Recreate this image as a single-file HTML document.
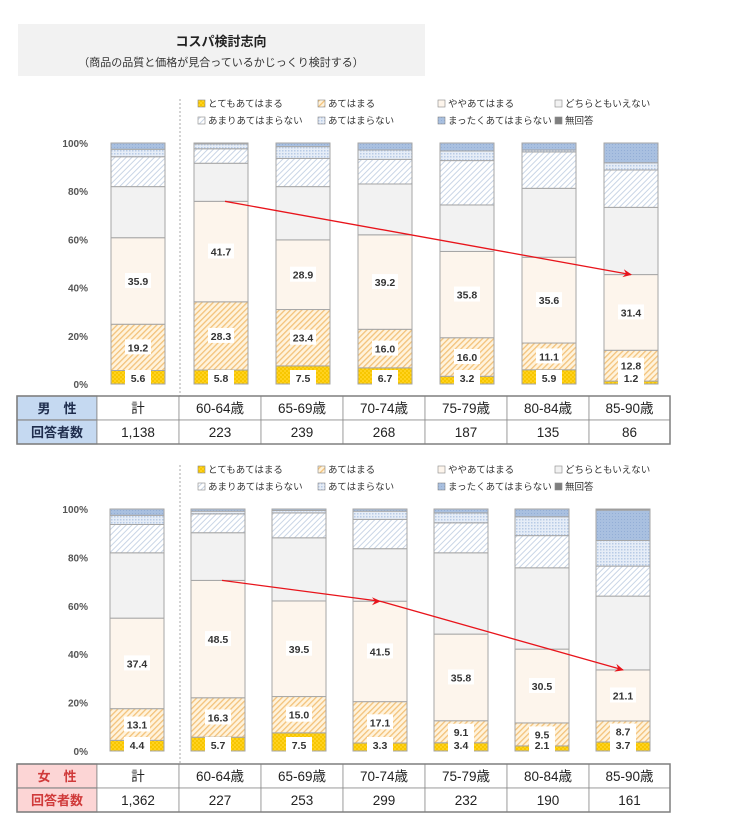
<!DOCTYPE html>
<html><head><meta charset="utf-8">
<style>
body{margin:0;background:#fff;font-family:"Liberation Sans","Noto Sans CJK JP",sans-serif;}
#wrap{position:relative;width:730px;height:840px;overflow:hidden;}
</style></head>
<body>
<div id="wrap">
<svg id="svg" width="730" height="840" xmlns="http://www.w3.org/2000/svg">
<defs>
<pattern id="pYel" width="4" height="4" patternUnits="userSpaceOnUse"><rect width="4" height="4" fill="#ffd21f"/><rect width="2" height="2" fill="#f7c600"/><rect x="2" y="2" width="2" height="2" fill="#f7c600"/></pattern>
<pattern id="pOr" width="4" height="4" patternUnits="userSpaceOnUse" patternTransform="rotate(45)"><rect width="4" height="4" fill="#fff3dc"/><rect width="1.3" height="4" fill="#f3c27a"/></pattern>
<pattern id="pHat" width="4" height="4" patternUnits="userSpaceOnUse" patternTransform="rotate(45)"><rect width="4" height="4" fill="#fff"/><rect width="1" height="4" fill="#c9d5e6"/></pattern>
<pattern id="pDot" width="3" height="3" patternUnits="userSpaceOnUse"><rect width="3" height="3" fill="#e6edf7"/><rect width="1.5" height="1.5" fill="#b8cbe6"/></pattern>
<pattern id="pBlue" width="3" height="3" patternUnits="userSpaceOnUse"><rect width="3" height="3" fill="#a9c0e0"/><rect width="1" height="1" fill="#93aed6"/></pattern>
<marker id="arr" markerWidth="10" markerHeight="10" refX="8" refY="5" orient="auto" markerUnits="userSpaceOnUse"><path d="M0,1 L9,5 L0,9 L3,5 Z" fill="#e8141b"/></marker>
</defs>
<rect x="18" y="24" width="407" height="52" fill="#f2f2f2"/>
<text x="221" y="46" text-anchor="middle" font-size="13" font-weight="bold" fill="#222">コスパ検討志向</text>
<text x="221" y="66" text-anchor="middle" font-size="11" fill="#333">（商品の品質と価格が見合っているかじっくり検討する）</text>
</svg>
</div>
<script>
const categories = ["計","60-64歳","65-69歳","70-74歳","75-79歳","80-84歳","85-90歳"];
const seriesNames = ["とてもあてはまる","あてはまる","ややあてはまる","どちらともいえない","あまりあてはまらない","あてはまらない","まったくあてはまらない","無回答"];
const maleTotemo   = [5.6,5.8,7.5,6.7,3.2,5.9,1.2];
const maleAte      = [19.2,28.3,23.4,16.0,16.0,11.1,12.8];
const maleYaya     = [35.9,41.7,28.9,39.2,35.8,35.6,31.4];
const maleDochira  = [21.2,15.8,22.1,21.1,19.3,28.6,27.9];
const maleAmari    = [12.4,6.0,11.7,10.2,18.4,15.1,15.5];
const maleAtenai   = [3.1,2.0,4.9,3.9,4.0,0.8,3.0];
const maleMattaku  = [2.6,0.4,1.5,2.9,3.3,2.9,8.2];
const maleMukaitou = [0,0,0,0,0,0,0];
const femaleTotemo   = [4.4,5.7,7.5,3.3,3.4,2.1,3.7];
const femaleAte      = [13.1,16.3,15.0,17.1,9.1,9.5,8.7];
const femaleYaya     = [37.4,48.5,39.5,41.5,35.8,30.5,21.1];
const femaleDochira  = [27.0,19.7,26.1,21.7,33.6,33.6,30.5];
const femaleAmari    = [11.7,7.8,10.3,12.1,12.4,13.3,12.4];
const femaleAtenai   = [3.8,1.1,1.0,3.4,4.1,7.8,10.6];
const femaleMattaku  = [2.6,0.9,0.6,0.9,1.6,3.2,12.5];
const femaleMukaitou = [0,0,0,0,0,0,0.5];
const maleCounts = ["1,138","223","239","268","187","135","86"];
const femaleCounts = ["1,362","227","253","299","232","190","161"];
const yTicks = [0,20,40,60,80,100];

const fills=["url(#pYel)","url(#pOr)","#fdf5ec","#f2f2f2","url(#pHat)","url(#pDot)","url(#pBlue)","#7f7f7f"];
const svg=document.getElementById('svg');
const NS="http://www.w3.org/2000/svg";
function mk(tag,attrs,parent){const e=document.createElementNS(NS,tag);for(const k in attrs)e.setAttribute(k,attrs[k]);(parent||svg).appendChild(e);return e;}

function drawPanel(cfg){
  const g=mk('g',{});
  
  
  const y0=cfg.y0,y100=cfg.y100;
  const yS=v=>y0-(y0-y100)*v/100;
  const xS=i=>cfg.x0+i*cfg.step+(i>0?cfg.gap:0);
  const bw=cfg.bw;
  yTicks.forEach(t=>{
    const tx=mk('text',{x:88,y:yS(t)+4,'text-anchor':'end','font-size':'10','font-weight':'bold',fill:'#555'},g);
    tx.textContent=t+'%';
    
    
  });
  const dl=mk('line',{x1:180,y1:cfg.legendY-8,x2:180,y2:cfg.tableY,stroke:'#aaa','stroke-dasharray':'2,2'},g);
  
  
  const lx=[198,318,438,555];
  seriesNames.forEach((n,k)=>{
    const col=k%4,row=Math.floor(k/4);
    const x=lx[col],y=cfg.legendY+row*17;
    const r=mk('rect',{x:x,y:y-7,width:7,height:7,fill:fills[k],stroke:'#888','stroke-width':0.6},g);
    
    
    const t=mk('text',{x:x+10,y:y,'font-size':'9.5',fill:'#333'},g);
    t.textContent=n;
    
    
  });
  const series=cfg.series;
  const labels=[];
  categories.forEach((c,i)=>{
    let cum=0;
    const x=xS(i);
    const cx=x+bw/2;
    series.forEach((arr,k)=>{
      const v=arr[i];
      if(v<=0){return;}
      const yt=yS(cum+v),yb=yS(cum);
      const r=mk('rect',{x:x,y:yt,width:bw,height:yb-yt,fill:fills[k],stroke:'#a6a6a6','stroke-width':1},g);
      
      
      if(k<3){
        const ly=(k==0)?yb-6:(yt+yb)/2;
        labels.push([cx,ly,v.toFixed(1)]);
      }
      cum+=v;
    });
  });
  labels.forEach(([cx,ly,txt])=>{
    const bx=mk('rect',{x:cx-13,y:ly-8,width:26,height:15,fill:'#fff'},g);
    
    
    const t=mk('text',{x:cx,y:ly+4,'text-anchor':'middle','font-size':'10.5','font-weight':'bold',fill:'#333'},g);
    t.textContent=txt;
    
    
  });
  const pts=cfg.arrowIdx.map(i=>{
    const cum=series[0][i]+series[1][i]+series[2][i];
    return [xS(i)+bw/2+(i==cfg.arrowIdx[0]?4:0),yS(cum)];
  });
  const p=mk('polyline',{points:pts.map(q=>q.join(',')).join(' '),fill:'none',stroke:'#e8141b','stroke-width':1.3,'marker-end':'url(#arr)'},g);
  
  
  if(cfg.midMarker){
    const q=pts[1];
    const m=mk('path',{d:`M${q[0]-8},${q[1]-4} L${q[0]+1},${q[1]} L${q[0]-8},${q[1]+4} L${q[0]-5},${q[1]} Z`,fill:'#e8141b'},g);
    
    
  }
  const ty=cfg.tableY,rh=24;
  const colX=[17,97,179,261,343,425,507,589,670];
  for(let r=0;r<2;r++){
    for(let c=0;c<8;c++){
      const cell=mk('rect',{x:colX[c],y:ty+r*rh,width:colX[c+1]-colX[c],height:rh,fill:c==0?cfg.headBg:'#fff',stroke:'#8c8c8c','stroke-width':c==0?1.2:0.8},g);
      
      
      let txt;
      if(c==0) txt=r==0?cfg.headLabel:'回答者数';
      else txt=r==0?categories[c-1]:cfg.counts[c-1];
      const t=mk('text',{x:(colX[c]+colX[c+1])/2,y:ty+r*rh+17,'text-anchor':'middle','font-size':c==0?'13':'13.5','font-weight':c==0?'bold':'normal',fill:c==0?cfg.headColor:'#222'},g);
      t.textContent=txt;
      
      
    }
  }
  mk('rect',{x:17,y:ty,width:653,height:rh*2,fill:'none',stroke:'#7f7f7f','stroke-width':1.5},g);
}

drawPanel({name:'male',y0:384,y100:143,x0:111,step:82,gap:1,bw:54,legendY:107,tableY:396,
  series:[maleTotemo,maleAte,maleYaya,maleDochira,maleAmari,maleAtenai,maleMattaku,maleMukaitou],
  arrowIdx:[1,6],midMarker:false,counts:maleCounts,headLabel:'男　性',headBg:'#c5d9f1',headColor:'#1f2d4d'});
drawPanel({name:'female',y0:751,y100:509,x0:110,step:81,gap:0,bw:54,legendY:473,tableY:764,
  series:[femaleTotemo,femaleAte,femaleYaya,femaleDochira,femaleAmari,femaleAtenai,femaleMattaku,femaleMukaitou],
  arrowIdx:[1,3,6],midMarker:true,counts:femaleCounts,headLabel:'女　性',headBg:'#fcd5d5',headColor:'#d03a3a'});
</script>
</body></html>
